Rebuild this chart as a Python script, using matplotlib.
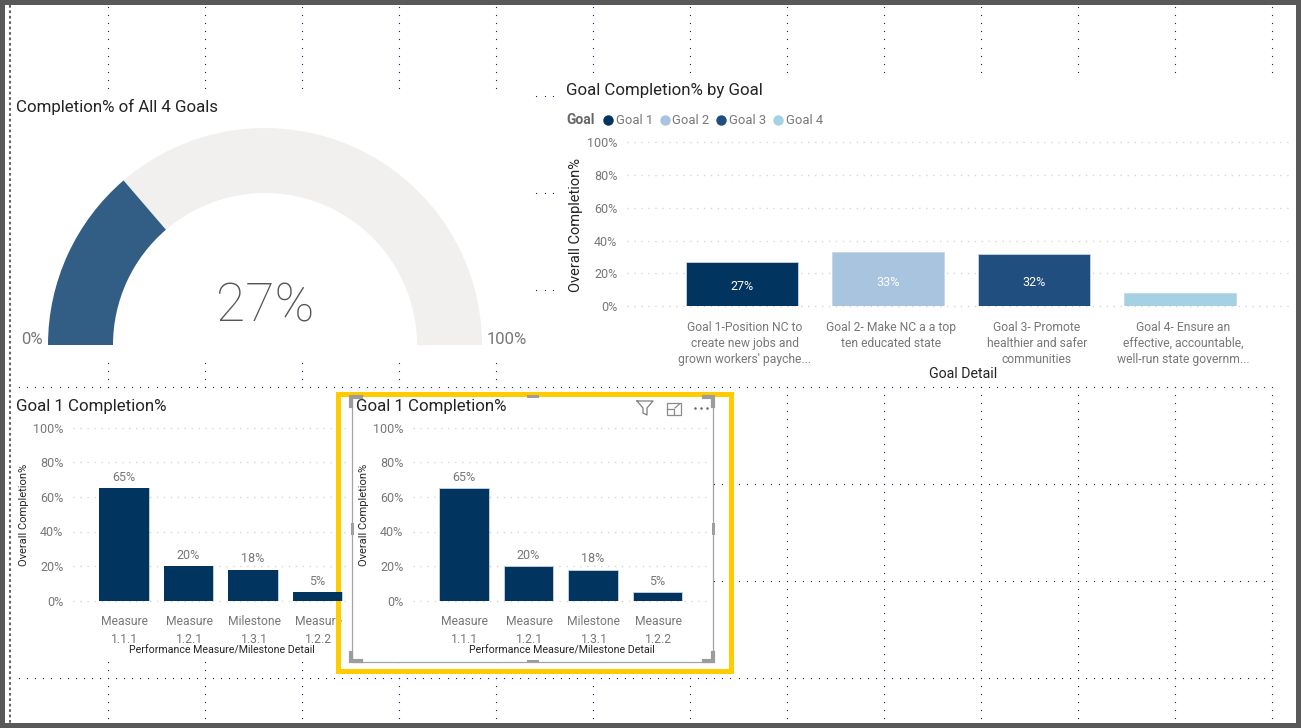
import numpy as np
import matplotlib
matplotlib.use("Agg")
from matplotlib import pyplot as plt
from matplotlib.patches import Rectangle, Wedge
from matplotlib.transforms import ScaledTranslation

plt.rcParams['font.family'] = ['Roboto', 'DejaVu Sans']

W, H = 1301, 728

gauge_value = 27.4
gauge_min_label = '0%'
gauge_max_label = '100%'

goal_names = ['Goal 1', 'Goal 2', 'Goal 3', 'Goal 4']
goal_details = ["Goal 1-Position NC to\ncreate new jobs and\ngrown workers' payche...",
                "Goal 2- Make NC a a top\nten educated state",
                "Goal 3- Promote\nhealthier and safer\ncommunities",
                "Goal 4- Ensure an\neffective, accountable,\nwell-run state governm..."]
goal_values = [27, 33, 32, 8]
goal_labels = ['27%', '33%', '32%', '']
goal_colors = ['#01345f', '#a8c4de', '#1f4e7f', '#a4d2e4']

measure_names = ['Measure\n1.1.1', 'Measure\n1.2.1', 'Milestone\n1.3.1', 'Measure\n1.2.2']
measure_values = [65, 20, 18, 5]
measure_labels = ['65%', '20%', '18%', '5%']

y_ticks = [0, 20, 40, 60, 80, 100]

TITLE = '#252423'
GREY = '#777777'
NAVY = '#01345f'
YELLOW = '#ffcc00'
HANDLE = '#9c9c9c'

fig = plt.figure(figsize=(W / 100, H / 100), dpi=100, facecolor='white')


def px_axes(l, t, r, b, z):
    ax = fig.add_axes([l / W, 1 - b / H, (r - l) / W, (b - t) / H], zorder=z)
    ax.patch.set_alpha(0)
    return ax


def chart(pos, z, names, values, colors, c0, step, width, xsize, xpad, xspacing, xshift):
    l, t, r, b = pos
    ax = px_axes(l, t, r, b, z)
    bars = ax.bar(range(len(values)), values, width=width / step, color=colors,
                  edgecolor='#c9d6e4', linewidth=0.6, zorder=3)
    ax.set_xlim((l - c0) / step, (r - c0) / step)
    ax.set_ylim(0, 100)
    ax.set_yticks(y_ticks, [f'{v}%' for v in y_ticks], fontsize=9, color=GREY)
    ax.set_xticks(range(len(values)), names, fontsize=xsize, color=GREY, linespacing=xspacing)
    ax.tick_params(length=0)
    ax.tick_params(axis='y', pad=7)
    ax.tick_params(axis='x', pad=xpad)
    shift = ScaledTranslation(xshift / 100, 0, fig.dpi_scale_trans)
    for lab in ax.get_xticklabels():
        lab.set_transform(lab.get_transform() + shift)
    ax.grid(axis='y', color='#d6d6d6', linestyle=(0, (1, 4)), linewidth=1, clip_on=False)
    ax.set_axisbelow(True)
    for s in ax.spines.values():
        s.set_visible(False)
    return ax, bars


def set_names(ax, pos, xname, xp, yname, yp, xs, ys):
    l, t, r, b = pos
    ax.set_xlabel(xname, fontsize=xs, color=TITLE, va='center')
    ax.xaxis.set_label_coords((xp[0] - l) / (r - l), (b - xp[1]) / (b - t))
    ax.set_ylabel(yname, fontsize=ys, color=TITLE, va='center')
    ax.yaxis.set_label_coords((yp[0] - l) / (r - l), (b - yp[1]) / (b - t))


# report canvas: border, snap grid and the white visual backgrounds
bg = px_axes(0, 0, W, H, 0)
bg.set_xlim(0, W)
bg.set_ylim(H, 0)
bg.axis('off')

pitch = 97 / 12
col_x = 108 + 97 * np.arange(13)
row_y = 678 - 97 * np.arange(7)
dot_y = 678 + pitch * np.arange(-83, 6)
dot_x = 108 + pitch * np.arange(-11, 144)
for x in col_x:
    bg.plot(np.full(dot_y.size, x), dot_y, ls='', marker='s', ms=0.8, mew=0, color='#00305e',
            antialiased=False, zorder=1)
for y in row_y:
    bg.plot(dot_x, np.full(dot_x.size, y), ls='', marker='s', ms=0.8, mew=0, color='#00305e',
            antialiased=False, zorder=1)

for x0, y0, x1, y1 in [(12, 92, 535, 359), (556, 76, 1296, 383), (12, 391, 352, 658), (352, 396, 713, 662)]:
    bg.add_patch(Rectangle((x0, y0), x1 - x0, y1 - y0, fc='white', ec='none', zorder=2))

bg.plot([10, 10], [5, 723], color='#666666', lw=1.5, ls=(0, (1.3, 1.3)), zorder=3)
for x0, y0, x1, y1 in [(0, 0, W, 5), (0, 723, W, H), (0, 0, 5, H), (1296, 0, W, 728)]:
    bg.add_patch(Rectangle((x0, y0), x1 - x0, y1 - y0, fc='#595959', ec='none', zorder=4))

# gauge
g = px_axes(0, 0, W, H, 1)
g.set_xlim(0, W)
g.set_ylim(H, 0)
g.axis('off')
cx, cy, R_out, R_in = 265, 345, 217, 152
split = 180 + 180 * gauge_value / 100
g.add_patch(Wedge((cx, cy), R_out, split, 360, width=R_out - R_in, fc='#f1f0ee', ec='none'))
g.add_patch(Wedge((cx, cy), R_out, 180, split, width=R_out - R_in, fc='#325e86', ec='none'))
g.text(cx, 306.5, f'{gauge_value:.0f}%', fontsize=38.5, fontweight='light', color='#555555', ha='center', va='center')
g.text(21, 340, gauge_min_label, fontsize=12, color=GREY, va='center')
g.text(487, 340, gauge_max_label, fontsize=12, color=GREY, va='center')
g.text(16, 107, 'Completion% of All 4 Goals', fontsize=12.2, color=TITLE, va='center')

# goal chart
g.text(566, 91, 'Goal Completion% by Goal', fontsize=12.2, color=TITLE, va='center')
g.text(566, 120, 'Goal', fontsize=10, fontweight='bold', color='#666666', va='center')
for name, color, mx in zip(goal_names, goal_colors, [608, 664.5, 721, 777.5]):
    g.plot([mx], [119.5], marker='o', ms=7.5, mew=0, color=color)
    g.text(mx + 8, 120, name, fontsize=9.4, color=GREY, va='center')

goal_pos = (627, 142.3, 1292, 306)
ax_goal, goal_bars = chart(goal_pos, 1, goal_details, goal_values, goal_colors,
                           742, 146, 112, 8.75, 10.5, 1.3, 3)
ax_goal.bar_label(goal_bars, labels=goal_labels, label_type='center', padding=-2.2, color='white', fontsize=9)
set_names(ax_goal, goal_pos, 'Goal Detail', (963, 374), 'Overall Completion%', (576, 225), 10.2, 10.5)

# the two Goal 1 charts
left_pos = (73, 427.7, 347, 600.7)
ax_left, left_bars = chart(left_pos, 1, measure_names, measure_values, NAVY,
                           124, 64.5, 49.5, 8.7, 10, 1.5, 1)
ax_left.bar_label(left_bars, labels=measure_labels, padding=3, color=GREY, fontsize=9)
set_names(ax_left, left_pos, 'Performance Measure/Milestone Detail', (222, 651),
          'Overall Completion%', (24, 515), 7.7, 8)
g.text(16, 406, 'Goal 1 Completion%', fontsize=12.2, color=TITLE, va='center')

sel_pos = (413, 427.7, 707, 600.7)
ax_sel, sel_bars = chart(sel_pos, 1, measure_names, measure_values, NAVY,
                         464, 64.5, 49.5, 8.7, 10, 1.5, 1)
ax_sel.bar_label(sel_bars, labels=measure_labels, padding=3, color=GREY, fontsize=9)
set_names(ax_sel, sel_pos, 'Performance Measure/Milestone Detail', (562, 651),
          'Overall Completion%', (364, 515), 7.7, 8)
g.text(356, 406, 'Goal 1 Completion%', fontsize=12.2, color=TITLE, va='center')

# selection box, drawn above the charts
top = px_axes(0, 0, W, H, 2)
top.set_xlim(0, W)
top.set_ylim(H, 0)
top.axis('off')
top.add_patch(Rectangle((337.5, 393.5), 393, 277, fc='none', ec=YELLOW, lw=3.6))
top.plot([352, 352, 713, 713], [396, 661.5, 661.5, 396], color='#a3a3a3', lw=0.9)
for pts in [([351, 351, 361], [406, 397, 397]), ([704, 713, 713], [397, 397, 406]),
            ([351, 351, 361], [653, 661, 661]), ([704, 713, 713], [661, 661, 653])]:
    top.plot(pts[0], pts[1], color=HANDLE, lw=3, solid_joinstyle='miter')
for (x0, y0, w, h) in [(527, 395, 12, 3), (527, 660, 12, 3), (350.5, 523, 3.5, 12), (711.5, 523, 3.5, 12)]:
    top.add_patch(Rectangle((x0, y0), w, h, fc=HANDLE, ec='none'))

# header icons
top.plot([637, 653, 647, 647, 643, 643, 637], [401, 401, 408, 415, 413, 408, 401], color='#7d7d7d', lw=0.9)
top.add_patch(Rectangle((667, 403), 14, 12, fc='none', ec='#8a8a8a', lw=0.9))
top.plot([667, 674, 674], [409, 409, 415], color='#8a8a8a', lw=0.9)
top.plot([675, 680], [408, 403.5], color='#8a8a8a', lw=0.9)
top.plot([695, 701, 707], [408, 408, 408], ls='', marker='o', ms=1.8, mew=0, color='#666666')

# the fourth bar of the left chart overlaps the selection box
over = px_axes(*left_pos, 3)
over.bar(range(len(measure_values)), measure_values, width=49.5 / 64.5, color=NAVY)
over.set_xlim(ax_left.get_xlim())
over.set_ylim(0, 100)
over.axis('off')

fig.savefig('out.png', dpi=100)
plt.close(fig)
